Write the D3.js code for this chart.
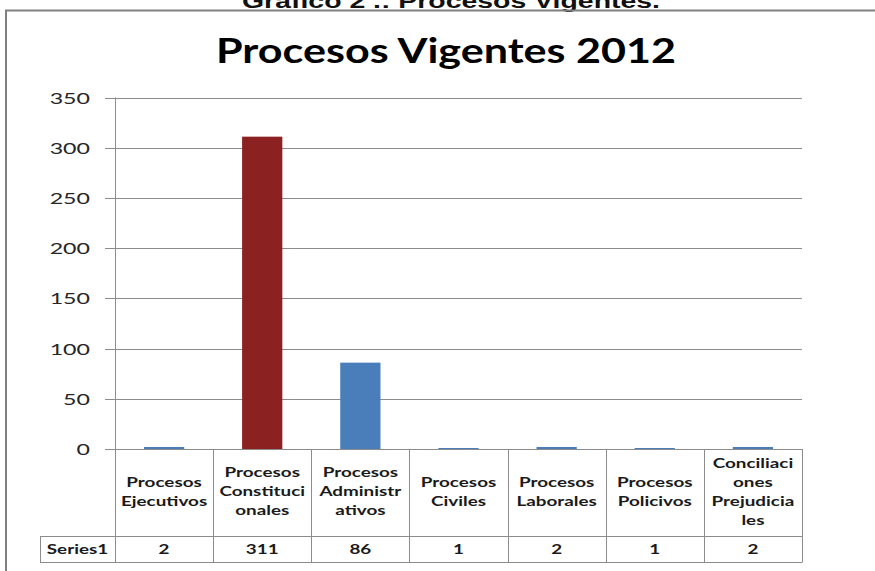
<!DOCTYPE html>
<html>
<head>
    <meta charset="UTF-8">
    <title>Procesos Vigentes 2012</title>
    <style>
        body { margin: 0; background: #fff; }
        text { font-family: Lato, "Open Sans", sans-serif; }
    </style>
</head>
<body>
    <div id="chart"></div>

    <script src="https://d3js.org/d3.v7.min.js"></script>
    <script>
        // datos
        var categorias = ["Procesos Ejecutivos", "Procesos Constitucionales", "Procesos Administrativos",
            "Procesos Civiles", "Procesos Laborales", "Procesos Policivos", "Conciliaciones Prejudiciales"];
        // etiquetas partidas en lineas como en la tabla del grafico
        var etiquetas = [
            ["Procesos", "Ejecutivos"],
            ["Procesos", "Constituci", "onales"],
            ["Procesos", "Administr", "ativos"],
            ["Procesos", "Civiles"],
            ["Procesos", "Laborales"],
            ["Procesos", "Policivos"],
            ["Conciliaci", "ones", "Prejudicia", "les"]
        ];
        var series1 = [2, 311, 86, 1, 2, 1, 2];
        var serieNombre = "Series1";
        var yTicks = [0, 50, 100, 150, 200, 250, 300, 350];
        var colores = ["#4a7ebb", "#8c2121", "#4a7ebb", "#4a7ebb", "#4a7ebb", "#4a7ebb", "#4a7ebb"];

        var width = 875, height = 571;
        var sx = 1.45; // la imagen original esta estirada a lo ancho

        var svg = d3.select("#chart").append("svg")
            .attr("width", width)
            .attr("height", height);

        // encabezado cortado arriba
        svg.append("text")
            .attr("x", 451).attr("y", 8)
            .attr("text-anchor", "middle")
            .style("font-family", "'Liberation Sans', Arial, sans-serif")
            .style("font-weight", "bold")
            .style("font-size", "20px")
            .attr("textLength", 418)
            .attr("lengthAdjust", "spacingAndGlyphs")
            .attr("fill", "#111")
            .text("Gráfico 2 .: Procesos Vigentes.");

        // marco
        svg.append("path")
            .attr("d", "M6,571 V10.5 H875")
            .attr("fill", "none")
            .attr("stroke", "#808080")
            .attr("stroke-width", 2);

        // titulo
        svg.append("text")
            .attr("x", 446).attr("y", 63)
            .attr("text-anchor", "middle")
            .style("font-weight", "bold")
            .style("font-size", "34px")
            .attr("textLength", 460)
            .attr("lengthAdjust", "spacingAndGlyphs")
            .attr("fill", "#000")
            .text("Procesos Vigentes 2012");

        var plotLeft = 115, plotRight = 802, plotTop = 97.5, zeroY = 449;
        var rowSplit = 536, tableBottom = 562, tableLeft = 40;

        var x = d3.scaleBand().domain(categorias).range([plotLeft, plotRight]).paddingInner(0);
        var y = d3.scaleLinear().domain([0, 350]).range([zeroY, plotTop]);

        // rejilla
        svg.append("g")
            .selectAll("line")
            .data(yTicks)
            .enter()
            .append("line")
            .attr("x1", plotLeft - 10).attr("x2", plotRight)
            .attr("y1", function (d) { return Math.round(y(d)) + 0.5; })
            .attr("y2", function (d) { return Math.round(y(d)) + 0.5; })
            .attr("stroke", "#8c8c8c");

        // etiquetas del eje y
        svg.append("g")
            .selectAll("text")
            .data(yTicks)
            .enter()
            .append("text")
            .attr("transform", function (d) {
                return "translate(90," + (y(d) + 6) + ") scale(" + sx + ",1)";
            })
            .attr("text-anchor", "end")
            .style("font-size", "16px")
            .attr("fill", "#262626")
            .text(function (d) { return d; });

        // barras
        svg.append("g")
            .selectAll("rect")
            .data(series1)
            .enter()
            .append("rect")
            .attr("x", function (d, i) { return x(categorias[i]) + x.bandwidth() * 0.295; })
            .attr("width", x.bandwidth() * 0.41)
            .attr("y", function (d) { return y(d); })
            .attr("height", function (d) { return zeroY - y(d); })
            .attr("fill", function (d, i) { return colores[i]; });

        // tabla de datos
        var tabla = svg.append("g")
            .attr("stroke", "#8c8c8c")
            .attr("fill", "none");

        tabla.append("line")
            .attr("x1", plotLeft + 0.5).attr("x2", plotLeft + 0.5)
            .attr("y1", plotTop).attr("y2", tableBottom);

        tabla.selectAll("line.sep")
            .data(categorias)
            .enter()
            .append("line")
            .attr("class", "sep")
            .attr("x1", function (d) { return Math.round(x(d) + x.bandwidth()) + 0.5; })
            .attr("x2", function (d) { return Math.round(x(d) + x.bandwidth()) + 0.5; })
            .attr("y1", zeroY).attr("y2", tableBottom);

        [rowSplit, tableBottom].forEach(function (yy) {
            tabla.append("line")
                .attr("x1", tableLeft).attr("x2", plotRight + 0.5)
                .attr("y1", yy + 0.5).attr("y2", yy + 0.5);
        });
        tabla.append("line")
            .attr("x1", tableLeft + 0.5).attr("x2", tableLeft + 0.5)
            .attr("y1", rowSplit).attr("y2", tableBottom);

        // encabezados de categoria
        var lh = 19;
        var celdas = svg.append("g")
            .selectAll("g")
            .data(etiquetas)
            .enter()
            .append("g");

        celdas.selectAll("text")
            .data(function (d, i) {
                return d.map(function (t, j) {
                    return { t: t, j: j, n: d.length, c: categorias[i] };
                });
            })
            .enter()
            .append("text")
            .attr("transform", function (d) {
                var cx = x(d.c) + x.bandwidth() / 2;
                var cy = 496 + (d.j - (d.n - 1) / 2) * lh;
                return "translate(" + cx + "," + cy + ") scale(" + sx + ",1)";
            })
            .attr("text-anchor", "middle")
            .style("font-size", "13px")
            .style("font-weight", "bold")
            .attr("fill", "#1a1a1a")
            .text(function (d) { return d.t; });

        // fila de valores
        svg.append("text")
            .attr("transform", "translate(" + ((tableLeft + plotLeft) / 2) + ",554) scale(" + sx + ",1)")
            .attr("text-anchor", "middle")
            .style("font-size", "13px")
            .style("font-weight", "bold")
            .attr("fill", "#1a1a1a")
            .text(serieNombre);

        svg.append("g")
            .selectAll("text")
            .data(series1)
            .enter()
            .append("text")
            .attr("transform", function (d, i) {
                return "translate(" + (x(categorias[i]) + x.bandwidth() / 2) + ",554) scale(" + sx + ",1)";
            })
            .attr("text-anchor", "middle")
            .style("font-size", "13px")
            .style("font-weight", "bold")
            .attr("fill", "#1a1a1a")
            .text(function (d) { return d; });
    </script>
</body>
</html>
